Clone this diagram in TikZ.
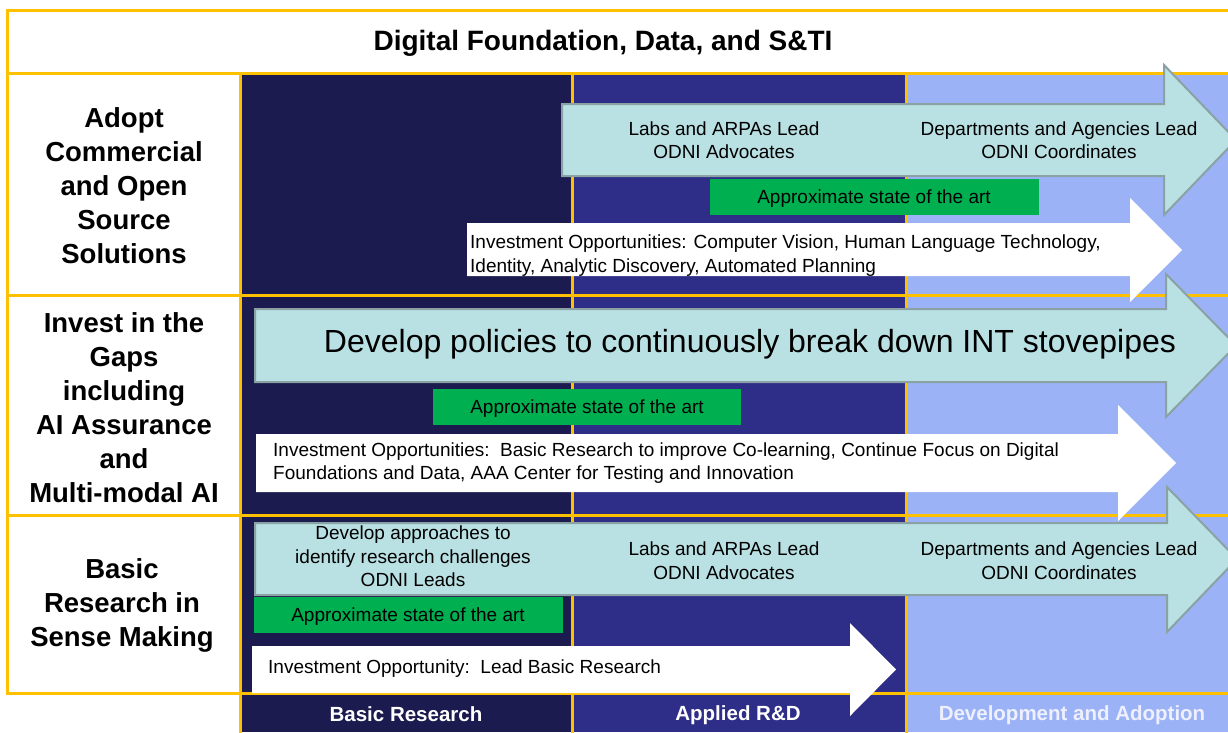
\documentclass[tikz,border=0pt]{standalone}
\usepackage{fontspec}
\setmainfont{Liberation Sans}
\definecolor{navyA}{RGB}{27,27,80}
\definecolor{navyB}{RGB}{46,45,136}
\definecolor{periw}{RGB}{155,179,246}
\definecolor{gold}{RGB}{255,192,0}
\definecolor{arrcyan}{RGB}{185,224,227}
\definecolor{arrgray}{RGB}{138,162,164}
\definecolor{stategreen}{RGB}{0,176,80}
\definecolor{paletext}{RGB}{238,240,255}
\begin{document}
\begin{tikzpicture}[x=1pt,y=-1pt,
  gridline/.style={draw=gold, line width=3pt},
  cyanarrow/.style={fill=arrcyan, draw=arrgray, line width=2pt, line join=miter},
  whitearrow/.style={fill=white, draw=none},
  greenbox/.style={fill=stategreen, draw=none},
  titletext/.style={font=\fontsize{28}{34}\selectfont\bfseries, inner sep=0pt},
  rowlabel/.style={font=\fontsize{27.5}{34}\selectfont\bfseries, align=center, inner sep=0pt},
  bodytext/.style={font=\fontsize{19}{23.5}\selectfont, align=center, inner sep=0pt},
  lefttext/.style={font=\fontsize{19}{23.5}\selectfont, align=left, anchor=west, inner sep=0pt},
  bigtext/.style={font=\fontsize{32}{38}\selectfont, inner sep=0pt},
  phaselabel/.style={font=\fontsize{20.5}{24}\selectfont\bfseries, inner sep=0pt}
]
\useasboundingbox (0,0) rectangle (1228,732);
\clip (0,0) rectangle (1228,732);
% backgrounds
\fill[white] (0,0) rectangle (1228,732);
\fill[navyA] (240,73) rectangle (572,732);
\fill[navyB] (572,73) rectangle (906,732);
\fill[periw] (906,73) rectangle (1232,732);
% grid
\draw[gridline] (7,10) -- (1232,10);
\draw[gridline] (7,73) -- (1232,73);
\draw[gridline] (7,295) -- (1232,295);
\draw[gridline] (7,515) -- (1232,515);
\draw[gridline] (7,693) -- (1232,693);
\draw[gridline] (7,8.5) -- (7,694.5);
\draw[gridline] (240,73) -- (240,734);
\draw[gridline] (572,73) -- (572,734);
\draw[gridline] (906,73) -- (906,734);
% title and row labels
\node[titletext] (title) at (603,43.5) {Digital Foundation, Data, and S\&TI};
\node[rowlabel] (row1) at (124,186) {Adopt\\Commercial\\and Open\\Source\\Solutions};
\node[rowlabel] (row2) at (124,408) {Invest in the\\Gaps\\including\\AI Assurance\\and\\Multi-modal AI};
\node[rowlabel] (row3) at (122,605.5) {Basic\\Research in\\Sense Making};
% row 1
\draw[cyanarrow] (562,104) -- (1164,104) -- (1164,65) -- (1236,140) -- (1164,215) -- (1164,176) -- (562,176) -- cycle;
\node[bodytext] (r1labs) at (724,140) {Labs and ARPAs Lead\\ODNI Advocates};
\node[bodytext] (r1dept) at (1059,140) {Departments and Agencies Lead\\ODNI Coordinates};
\fill[greenbox] (710,179) rectangle (1039,215);
\node[bodytext] (r1state) at (874,199) {Approximate state of the art};
\fill[whitearrow] (467,223) -- (1130,223) -- (1130,198) -- (1182,250) -- (1130,302) -- (1130,276) -- (467,276) -- cycle;
\node[lefttext] (r1inv) at (470,255.5) {Investment Opportunities: Computer Vision, Human Language Technology,\\Identity, Analytic Discovery, Automated Planning};
% row 2
\draw[cyanarrow] (255,309) -- (1166,309) -- (1166,274) -- (1236,345.5) -- (1166,417) -- (1166,382) -- (255,382) -- cycle;
\node[bigtext] (r2pol) at (750,344.5) {Develop policies to continuously break down INT stovepipes};
\fill[greenbox] (433,389) rectangle (741,425);
\node[bodytext] (r2state) at (587,409) {Approximate state of the art};
\fill[whitearrow] (256,434) -- (1118,434) -- (1118,405) -- (1176,463) -- (1118,521) -- (1118,492) -- (256,492) -- cycle;
\node[lefttext] (r2inv) at (273,463) {Investment Opportunities:\ \ Basic Research to improve Co-learning, Continue Focus on Digital\\Foundations and Data, AAA Center for Testing and Innovation};
% row 3
\fill[greenbox] (254,597) rectangle (563,633);
\node[bodytext] (r3state) at (408,617) {Approximate state of the art};
\draw[cyanarrow] (255,523) -- (1167,523) -- (1167,487) -- (1237,559) -- (1167,632) -- (1167,595) -- (255,595) -- cycle;
\node[bodytext] (r3dev) at (413,556.5) {Develop approaches to\\identify research challenges\\ODNI Leads};
\node[bodytext] (r3labs) at (724,560.5) {Labs and ARPAs Lead\\ODNI Advocates};
\node[bodytext] (r3dept) at (1059,560.5) {Departments and Agencies Lead\\ODNI Coordinates};
\fill[whitearrow] (252,646) -- (850,646) -- (850,623) -- (896,669.5) -- (850,716) -- (850,693) -- (252,693) -- cycle;
\node[lefttext] (r3inv) at (268,669) {Investment Opportunity:\ \ Lead Basic Research};
% phase labels
\node[phaselabel, text=white] (ph1) at (406,714) {Basic Research};
\node[phaselabel, text=white] (ph2) at (738,715) {Applied R\&D};
\node[phaselabel, text=paletext] (ph3) at (1072,715) {Development and Adoption};
\end{tikzpicture}
\end{document}
